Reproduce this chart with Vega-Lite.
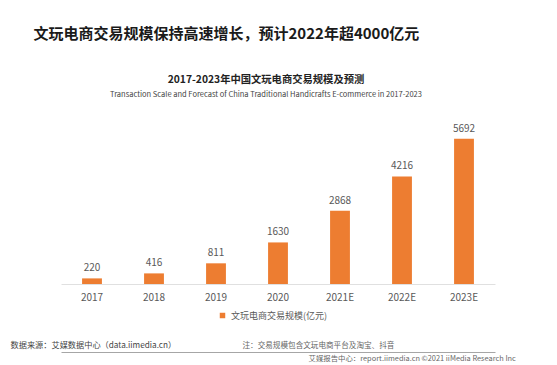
{
  "$schema": "https://vega.github.io/schema/vega-lite/v6.json",
  "width": 434,
  "height": 153,
  "autosize": {"type": "none"},
  "padding": {"left": 61, "top": 131, "right": 62, "bottom": 81},
  "background": "#ffffff",
  "config": {"font": "Noto Sans CJK SC", "view": {"stroke": null}},
  "title": {
    "text": "2017-2023年中国文玩电商交易规模及预测",
    "subtitle": "Transaction Scale and Forecast of China Traditional Handicrafts E-commerce in 2017-2023",
    "anchor": "middle",
    "fontSize": 10.3,
    "fontWeight": "bold",
    "color": "#222222",
    "subtitleFontSize": 7.5,
    "subtitleColor": "#444444",
    "subtitlePadding": 5,
    "offset": -72,
    "dx": -12
  },
  "data": {
    "values": [
      {"year": "2017", "value": 220, "series": "文玩电商交易规模(亿元)"},
      {"year": "2018", "value": 416, "series": "文玩电商交易规模(亿元)"},
      {"year": "2019", "value": 811, "series": "文玩电商交易规模(亿元)"},
      {"year": "2020", "value": 1630, "series": "文玩电商交易规模(亿元)"},
      {"year": "2021E", "value": 2868, "series": "文玩电商交易规模(亿元)"},
      {"year": "2022E", "value": 4216, "series": "文玩电商交易规模(亿元)"},
      {"year": "2023E", "value": 5692, "series": "文玩电商交易规模(亿元)"}
    ]
  },
  "layer": [
    {
      "mark": {"type": "bar"},
      "encoding": {
        "x": {
          "field": "year",
          "type": "ordinal",
          "sort": null,
          "scale": {"paddingInner": 0.68, "paddingOuter": 0.34},
          "axis": {
            "orient": "bottom",
            "labelAngle": 0,
            "labelFontSize": 10,
            "labelColor": "#595959",
            "labelPadding": 8,
            "ticks": false,
            "domainColor": "#e0e0e0",
            "title": "数据来源：艾媒数据中心（data.iimedia.cn）",
            "titleAnchor": "start",
            "titleAlign": "left",
            "titleBaseline": "middle",
            "titleX": -51,
            "titleY": 61,
            "titleFontSize": 8.2,
            "titleFontWeight": "normal",
            "titleColor": "#444444"
          }
        },
        "y": {
          "field": "value",
          "type": "quantitative",
          "scale": {"domain": [0, 6000], "nice": false},
          "axis": {
            "orient": "left",
            "labels": false,
            "ticks": false,
            "domain": false,
            "grid": false,
            "title": "文玩电商交易规模保持高速增长，预计2022年超4000亿元",
            "titleAngle": 0,
            "titleAnchor": "start",
            "titleAlign": "left",
            "titleBaseline": "middle",
            "titleX": -28,
            "titleY": -98,
            "titleFontSize": 15,
            "titleFontWeight": "bold",
            "titleColor": "#1a1a1a"
          }
        },
        "color": {
          "field": "series",
          "type": "nominal",
          "scale": {"range": ["#ED7D31"]},
          "legend": {
            "orient": "none",
            "legendX": 157,
            "legendY": 180,
            "title": null,
            "symbolType": "square",
            "symbolSize": 30,
            "labelFontSize": 9,
            "labelColor": "#595959"
          }
        }
      }
    },
    {
      "mark": {"type": "text", "baseline": "bottom", "dy": -5, "fontSize": 10, "color": "#595959"},
      "encoding": {
        "x": {
          "field": "year",
          "type": "ordinal",
          "sort": null,
          "axis": {
            "orient": "top",
            "offset": -221,
            "labels": false,
            "ticks": false,
            "domain": true,
            "domainColor": "#a6a6a6",
            "domainWidth": 1,
            "title": "艾媒报告中心：report.iimedia.cn  ©2021  iiMedia Research Inc",
            "titleAnchor": "start",
            "titleAlign": "left",
            "titleBaseline": "middle",
            "titleX": 247,
            "titleY": 6,
            "titleFontSize": 7.4,
            "titleFontWeight": "normal",
            "titleColor": "#666666"
          }
        },
        "y": {
          "field": "value",
          "type": "quantitative",
          "axis": {
            "orient": "right",
            "labels": false,
            "ticks": false,
            "domain": false,
            "grid": false,
            "title": "注：交易规模包含文玩电商平台及淘宝、抖音",
            "titleAngle": 0,
            "titleAnchor": "start",
            "titleAlign": "left",
            "titleBaseline": "middle",
            "titleX": -253,
            "titleY": 214,
            "titleFontSize": 7.6,
            "titleFontWeight": "normal",
            "titleColor": "#666666"
          }
        },
        "text": {"field": "value", "type": "quantitative"}
      }
    }
  ],
  "resolve": {"axis": {"x": "independent", "y": "independent"}}
}
